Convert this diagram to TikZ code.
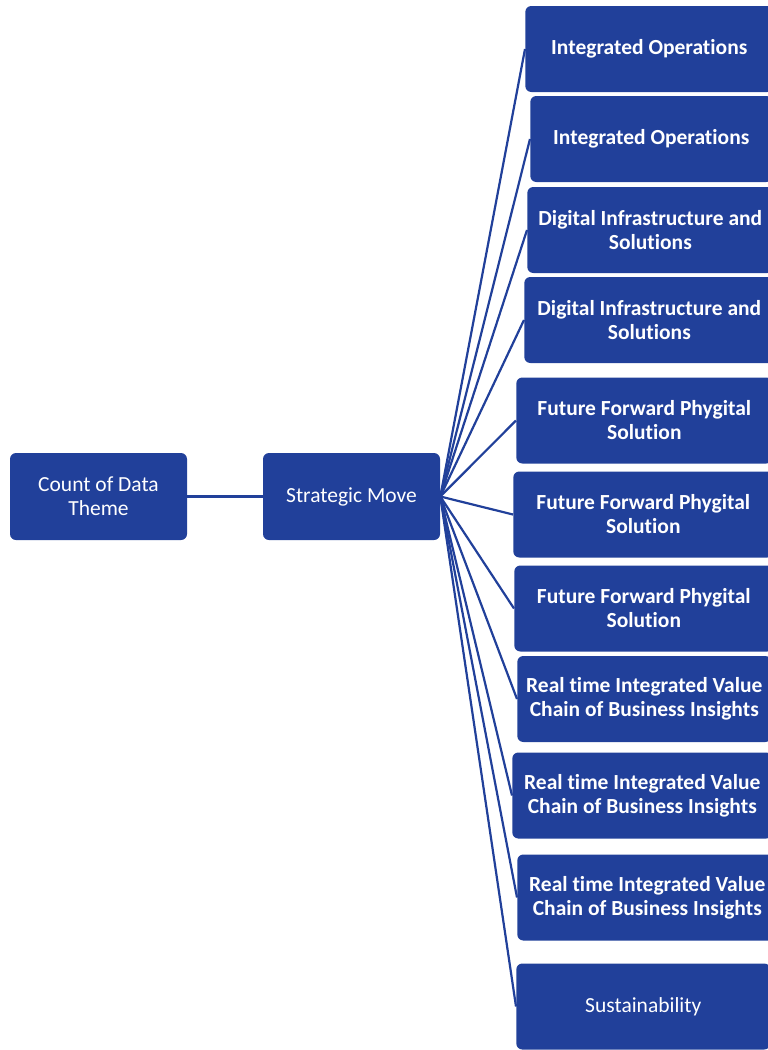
\documentclass[tikz,border=0pt]{standalone}
\usepackage{fontspec}
\setmainfont{Carlito}[Ligatures=NoCommon]
\usetikzlibrary{positioning}
\definecolor{boxblue}{HTML}{21409A}
\begin{document}
\begin{tikzpicture}
[x=1pt,y=-1pt,semithick,
                    box/.style={rectangle,rounded corners=6pt,fill=boxblue,text=white,
                    minimum width=177pt,minimum height=87pt,align=center,inner sep=2pt,
                    font=\fontsize{21.5}{24}\selectfont},
                    leaf/.style={box,anchor=west,minimum width=#1,minimum height=86pt,
                    font=\bfseries\fontsize{21.5}{24}\selectfont},
                    leaf/.default=256pt,
                    link/.style={draw=boxblue,line width=2.2pt}]
\useasboundingbox (0,0) rectangle (768,1050);
\clip (0,0) rectangle (768,1050);
\node[box] (theme) at (98.5,496.5) {Count of Data\\Theme};
\node[box] (move) at (351.5,496.5) {Strategic Move};

\node[leaf=248pt] (io1) at (525,49) {Integrated Operations};
\node[leaf=242pt] (io2) at (530,139) {Integrated Operations};
\node[leaf=246pt] (dis1) at (527,230) {Digital Infrastructure and\\Solutions};
\node[leaf=250pt] (dis2) at (524,320) {Digital Infrastructure and\\Solutions};
\node[leaf=256pt] (ffp1) at (516,420.5) {Future Forward Phygital\\Solution};
\node[leaf=260pt] (ffp2) at (513,514.5) {Future Forward Phygital\\Solution};
\node[leaf=259pt] (ffp3) at (514,608.5) {Future Forward Phygital\\Solution};
\node[leaf=254pt] (rti1) at (517,699) {Real time Integrated Value\\Chain of Business Insights};
\node[leaf=260pt] (rti2) at (512,795.5) {Real time Integrated Value\\Chain of Business Insights};
\node[leaf=260pt] (rti3) at (517,897.5) {Real time Integrated Value\\Chain of Business Insights};
\node[leaf=254pt,font=\fontsize{21.5}{24}\selectfont] (sus) at (516,1006.5) {Sustainability};

\path[link]
	(theme) edge (move)
	(move.east) edge (io1.west)
		edge (io2.west)
		edge (dis1.west)
		edge (dis2.west)
		edge (ffp1.west)
		edge (ffp2.west)
		edge (ffp3.west)
		edge (rti1.west)
		edge (rti2.west)
		edge (rti3.west)
		edge (sus.west);
\end{tikzpicture}
\end{document}
